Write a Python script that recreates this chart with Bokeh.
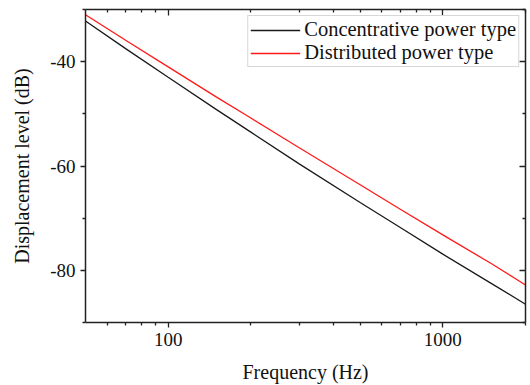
from bokeh.plotting import figure
from bokeh.models import (LogAxis, LinearAxis, FixedTicker, PrintfTickFormatter,
                          Legend, LegendItem, Range1d)
from bokeh.embed import file_html
from bokeh.resources import INLINE

# ---- data ----
freq = [50, 70, 100, 150, 200, 300, 500, 700, 1000, 1500, 2000]
concentrative = [-32.2, -37.5, -43.0, -49.2, -53.5, -59.6, -67.0, -71.8, -76.9, -82.5, -86.5]
distributed = [-31.0, -35.9, -41.0, -46.8, -50.8, -56.5, -63.6, -68.3, -73.2, -78.7, -82.8]

x_major = [100, 1000]
x_minor = [60, 70, 80, 90, 200, 300, 400, 500, 600, 700, 800, 900, 2000]
y_major = [-80, -60, -40]
y_minor = [-90, -70, -50, -30]

FONT = "Liberation Serif"
AX = "#222222"
TXT = "#111111"

p = figure(width=530, height=385, x_axis_type="log",
           x_range=Range1d(50, 2000), y_range=Range1d(-90, -30),
           output_backend="svg", toolbar_location=None,
           min_border_left=85, min_border_right=5,
           min_border_top=9, min_border_bottom=62)
p.grid.visible = False
p.outline_line_color = None
p.background_fill_color = "white"
p.border_fill_color = "white"

r1 = p.line(freq, concentrative, line_color="#1a1a1a", line_width=1.3)
r2 = p.line(freq, distributed, line_color="#ff1a1a", line_width=1.3)

xt = FixedTicker(ticks=x_major, minor_ticks=x_minor)
yt = FixedTicker(ticks=y_major, minor_ticks=y_minor)

def style(ax, inward=False):
    ax.axis_line_color = AX
    ax.axis_line_width = 1.5
    ax.major_tick_line_color = AX
    ax.minor_tick_line_color = AX
    ax.major_tick_line_width = 1.3
    ax.minor_tick_line_width = 1.3
    if inward:
        ax.major_tick_in = 6
        ax.major_tick_out = 0
        ax.minor_tick_in = 3
        ax.minor_tick_out = 0
        ax.major_label_text_font_size = "1px"
        ax.major_label_text_alpha = 0
        ax.major_label_standoff = 0
    else:
        ax.major_tick_in = 0
        ax.major_tick_out = 5
        ax.minor_tick_in = 0
        ax.minor_tick_out = 3
        ax.major_label_text_font = FONT
        ax.major_label_text_font_size = "19px"
        ax.major_label_text_color = TXT
        ax.axis_label_text_font = FONT
        ax.axis_label_text_font_size = "20px"
        ax.axis_label_text_font_style = "normal"
        ax.axis_label_text_color = TXT

xa = p.xaxis[0]
xa.ticker = xt
xa.formatter = PrintfTickFormatter(format="%d")
xa.axis_label = "Frequency (Hz)"
style(xa)
xa.major_label_standoff = 5
xa.axis_label_standoff = 12

ya = p.yaxis[0]
ya.ticker = yt
ya.formatter = PrintfTickFormatter(format="%d")
ya.axis_label = "Displacement level (dB)"
style(ya)
ya.major_label_standoff = 5
ya.axis_label_standoff = 14

top = LogAxis(ticker=FixedTicker(ticks=x_major, minor_ticks=x_minor))
style(top, inward=True)
p.add_layout(top, "above")

right = LinearAxis(ticker=FixedTicker(ticks=y_major, minor_ticks=y_minor))
style(right, inward=True)
p.add_layout(right, "right")

legend = Legend(items=[LegendItem(label="Concentrative power type", renderers=[r1]),
                       LegendItem(label="Distributed power type", renderers=[r2])],
                location="top_right")
legend.label_text_font = FONT
legend.label_text_font_size = "20.5px"
legend.label_text_color = TXT
legend.glyph_width = 50
legend.glyph_height = 20
legend.label_height = 20
legend.label_standoff = 4
legend.spacing = 0
legend.padding = 2
legend.margin = 6
legend.border_line_color = "#b0b0b0"
legend.border_line_width = 1
legend.background_fill_alpha = 1.0
p.add_layout(legend)

open("out.html", "w").write(file_html(p, INLINE))
